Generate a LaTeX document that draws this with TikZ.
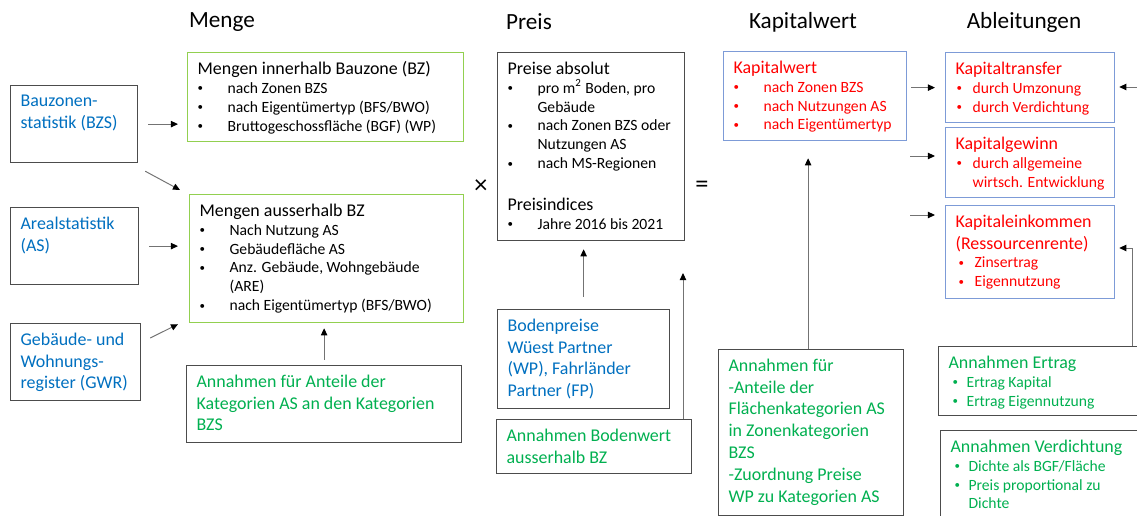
\documentclass[tikz,border=0pt]{standalone}
\usepackage{fontspec}
\setmainfont{Carlito}
\usepackage{xcolor}
\usetikzlibrary{arrows.meta, calc}

\definecolor{txtblue}{RGB}{0,112,192}
\definecolor{txtgreen}{RGB}{0,176,80}
\definecolor{boxgreen}{RGB}{146,208,80}
\definecolor{boxblue}{RGB}{125,155,215}

\newlength\pxu \setlength\pxu{0.02cm}
\newlength\padx \setlength\padx{10\pxu}
\newlength\pady \setlength\pady{9\pxu}

\newcommand{\fsL}{\fontsize{10.2}{12.5}\selectfont}
\newcommand{\fsS}{\fontsize{8.9}{10.8}\selectfont}
\newcommand{\fsH}{\fontsize{13.2}{15}\selectfont}

% text of a box: width, height (px), content
\newcommand{\boxtxt}[3]{\parbox[b][#2\pxu][t]{#1\pxu}{\raggedright\leftskip=\padx\vspace*{\pady}#3}}
% bullet item: [bullet offset], indent, text
\newcommand{\dotb}{\raisebox{0.25ex}{\scalebox{0.7}{\textbullet}}}
\newcommand{\itm}[3][0]{\par\fsS\hangindent=#2\pxu\hangafter=1\noindent\makebox[#2\pxu][l]{\hspace{#1\pxu}\dotb}#3}

\begin{document}
\begin{tikzpicture}[x=0.02cm, y=-0.02cm,
    box/.style={draw=#1, line width=0.7pt, anchor=north west, inner sep=0pt},
    box/.default=black!70,
    hdr/.style={font=\fsH},
    sym/.style={font=\fontsize{15}{17}\selectfont},
    arr/.style={draw=black!55, line width=0.55pt, -{Triangle[length=4pt,width=3.6pt,color=black]}}]

    \useasboundingbox (0,0) rectangle (1137,516);
    \fill[white] (0,0) rectangle (1137,516);
    \clip (0,0) rectangle (1137,516);

    % column heads
    \node[hdr] (hmenge) at (222,22) {Menge};
    \node[hdr] (hpreis) at (529,22) {Preis};
    \node[hdr] (hkapw) at (803,22) {Kapitalwert};
    \node[hdr] (hableit) at (1024,22) {Ableitungen};

    % Menge
    \node[box] (bzs) at (10,85) {\boxtxt{127}{77}{\fsL\color{txtblue}Bauzonen-\\statistik (BZS)}};
    \node[box] (as) at (10,207) {\boxtxt{128}{77}{\fsL\color{txtblue}Arealstatistik\\(AS)}};
    \node[box] (gwr) at (10,323) {\boxtxt{130}{77}{\fsL\color{txtblue}Gebäude- und\\Wohnungs-\\register (GWR)}};

    \node[box=boxgreen] (mginn) at (187,52) {\boxtxt{276}{89}{\fsL Mengen innerhalb Bauzone (BZ)
        \itm{30}{nach Zonen BZS}\itm{30}{nach Eigentümertyp (BFS/BWO)}\itm{30}{Bruttogeschossfläche (BGF) (WP)}}};
    \node[box=boxgreen] (mgaus) at (189,194) {\boxtxt{274}{128}{\fsL Mengen ausserhalb BZ
        \itm{30}{Nach Nutzung AS}\itm{30}{Gebäudefläche AS}\itm{30}{Anz. Gebäude, Wohngebäude\newline(ARE)}\itm{30}{nach Eigentümertyp (BFS/BWO)}}};
    \node[box] (anteile) at (186,365) {\boxtxt{275}{77}{\fsL\color{txtgreen}Annahmen für Anteile der\\Kategorien AS an den Kategorien\\BZS}};

    % Preis
    \node[box] (preise) at (497,52) {\boxtxt{187}{188}{\fsL Preise absolut
        \itm{30}{pro m\textsuperscript{2} Boden, pro\newline Gebäude}\itm{30}{nach Zonen BZS oder\newline Nutzungen AS}\itm{30}{nach MS-Regionen}
        \par\vspace{20\pxu}\fsL Preisindices
        \itm{30}{Jahre 2016 bis 2021}}};
    \node[box] (bodenpr) at (497,309) {\boxtxt{172}{99}{\fsL\color{txtblue}Bodenpreise\\Wüest Partner\\(WP), Fahrländer\\Partner (FP)}};
    \node[box] (bodenw) at (496,419) {\boxtxt{195}{54}{\fsL\color{txtgreen}Annahmen Bodenwert\\ausserhalb BZ}};

    \node[sym] (mal) at (481,187) {×};
    \node[sym] (gleich) at (702,187) {=};

    % Kapitalwert
    \node[box=boxblue] (kapwert) at (723,51) {\boxtxt{183}{89}{\fsL\color{red}Kapitalwert
        \itm{30}{nach Zonen BZS}\itm{30}{nach Nutzungen AS}\itm{30}{nach Eigentümertyp}}};
    \node[box] (kapann) at (718,349) {\boxtxt{185}{166}{\fsL\color{txtgreen}Annahmen für\\-Anteile der\\Flächenkategorien AS\\in Zonenkategorien\\BZS\\-Zuordnung Preise\\WP zu Kategorien AS}};

    % Ableitungen
    \node[box=boxblue] (transfer) at (945,52) {\boxtxt{169}{70}{\fsL\color{red}Kapitaltransfer
        \itm[1]{17}{durch Umzonung}\itm[1]{17}{durch Verdichtung}}};
    \node[box=boxblue] (gewinn) at (945,127) {\boxtxt{169}{70}{\fsL\color{red}Kapitalgewinn
        \itm[1]{17}{durch allgemeine\newline wirtsch. Entwicklung}}};
    \node[box=boxblue] (einkommen) at (945,205) {\boxtxt{169}{93}{\fsL\color{red}Kapitaleinkommen\\(Ressourcenrente)
        \itm[3]{19}{Zinsertrag}\itm[3]{19}{Eigennutzung}}};
    \node[box] (ertrag) at (938,346) {\boxtxt{222}{69}{\fsL\color{txtgreen}Annahmen Ertrag
        \itm[4]{18}{Ertrag Kapital}\itm[4]{18}{Ertrag Eigennutzung}}};
    \node[box] (verdicht) at (940,430) {\boxtxt{220}{100}{\fsL\color{txtgreen}Annahmen Verdichtung
        \itm[4]{18}{Dichte als BGF/Fläche}\itm[4]{18}{Preis proportional zu\newline Dichte}}};

    % arrows
    \draw[arr, shorten <=10\pxu, shorten >=9\pxu] (bzs.east) -- (bzs.east -| mginn.west);
    \draw[arr] ($(bzs.south east)+(7,8)$) -- ($(mgaus.north west)+(-9,-4)$);
    \draw[arr, shorten <=10\pxu, shorten >=11\pxu] (as.east) -- (as.east -| mgaus.west);
    \draw[arr] ($(gwr.north east)+(9,15)$) -- ($(mgaus.south west)+(-11,1)$);
    \draw[arr, shorten <=5\pxu, shorten >=5\pxu] (anteile.north) -- (anteile.north |- mgaus.south);
    \draw[arr, shorten <=12\pxu, shorten >=8\pxu] (bodenpr.north) -- (bodenpr.north |- preise.south);

    \coordinate (bwtip) at (683,273);
    \draw[arr] (bwtip |- bodenw.north) -- (bwtip);
    \draw[arr, shorten >=17\pxu] ($(kapann.north)+(-3,0)$) -- ($(kapann.north |- kapwert.south)+(-3,0)$);

    \draw[arr, shorten <=4\pxu, shorten >=10\pxu] (transfer.west -| kapwert.east) -- (transfer.west);
    \coordinate (g0) at (910,156);
    \draw[arr, shorten >=10\pxu] (g0) -- (g0 -| gewinn.west);
    \coordinate (e0) at (910,215);
    \draw[arr, shorten >=10\pxu] (e0) -- (e0 -| einkommen.west);
    \coordinate (t0) at (1137,87);
    \draw[arr, shorten >=4\pxu] (t0) -- (t0 -| transfer.east);
    \coordinate (r0) at (1132,248);
    \draw[arr, shorten >=4\pxu] (r0 |- ertrag.north) -- (r0) -- (r0 -| einkommen.east);

\end{tikzpicture}
\end{document}
